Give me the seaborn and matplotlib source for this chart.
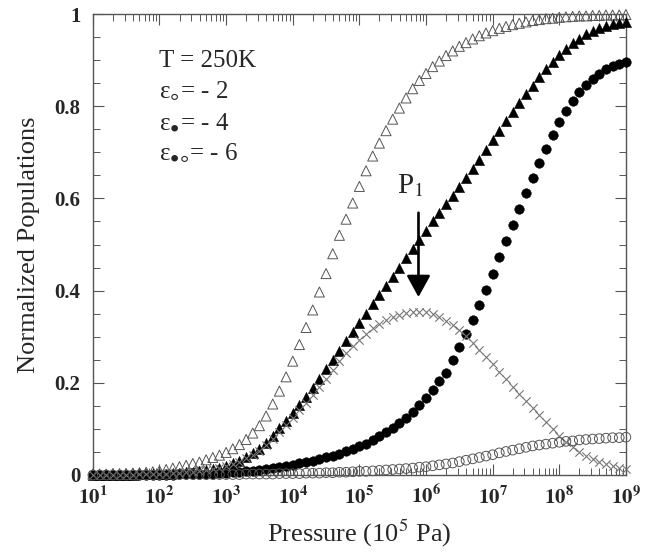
import numpy as np
import pandas as pd
import seaborn as sns
import matplotlib.pyplot as plt
from matplotlib.ticker import FixedLocator, MultipleLocator, LogLocator, NullFormatter

# log10 of pressure (10^5 Pa), one point every tenth of a decade
log_p = [1.0, 1.1, 1.2, 1.3, 1.4, 1.5, 1.6, 1.7, 1.8, 1.9,
         2.0, 2.1, 2.2, 2.3, 2.4, 2.5, 2.6, 2.7, 2.8, 2.9,
         3.0, 3.1, 3.2, 3.3, 3.4, 3.5, 3.6, 3.7, 3.8, 3.9,
         4.0, 4.1, 4.2, 4.3, 4.4, 4.5, 4.6, 4.7, 4.8, 4.9,
         5.0, 5.1, 5.2, 5.3, 5.4, 5.5, 5.6, 5.7, 5.8, 5.9,
         6.0, 6.1, 6.2, 6.3, 6.4, 6.5, 6.6, 6.7, 6.8, 6.9,
         7.0, 7.1, 7.2, 7.3, 7.4, 7.5, 7.6, 7.7, 7.8, 7.9,
         8.0, 8.1, 8.2, 8.3, 8.4, 8.5, 8.6, 8.7, 8.8, 8.9,
         9.0]

# open triangles
open_tri = [0.002, 0.002, 0.002, 0.003, 0.003, 0.003, 0.004, 0.005, 0.006, 0.007,
            0.009, 0.012, 0.015, 0.018, 0.021, 0.025, 0.028, 0.033, 0.038, 0.043,
            0.049, 0.057, 0.066, 0.077, 0.091, 0.107, 0.128, 0.154, 0.182, 0.213,
            0.247, 0.283, 0.320, 0.358, 0.397, 0.437, 0.480, 0.520, 0.555, 0.590,
            0.626, 0.660, 0.692, 0.720, 0.747, 0.772, 0.796, 0.818, 0.838, 0.856,
            0.871, 0.886, 0.898, 0.910, 0.920, 0.930, 0.938, 0.946, 0.953, 0.959,
            0.964, 0.969, 0.973, 0.977, 0.980, 0.983, 0.986, 0.988, 0.990, 0.991,
            0.993, 0.994, 0.995, 0.996, 0.996, 0.997, 0.997, 0.998, 0.998, 0.998,
            0.999]

# filled triangles
filled_tri = [0.001, 0.001, 0.001, 0.001, 0.001, 0.001, 0.001, 0.002, 0.002, 0.002,
              0.003, 0.003, 0.004, 0.005, 0.006, 0.007, 0.009, 0.011, 0.013, 0.016,
              0.020, 0.025, 0.031, 0.038, 0.047, 0.057, 0.070, 0.085, 0.101, 0.117,
              0.134, 0.152, 0.170, 0.189, 0.209, 0.229, 0.250, 0.270, 0.290, 0.310,
              0.330, 0.350, 0.370, 0.390, 0.410, 0.430, 0.450, 0.470, 0.490, 0.510,
              0.530, 0.550, 0.569, 0.587, 0.605, 0.624, 0.644, 0.664, 0.684, 0.705,
              0.726, 0.747, 0.768, 0.788, 0.807, 0.826, 0.845, 0.863, 0.880, 0.896,
              0.911, 0.925, 0.937, 0.947, 0.956, 0.963, 0.969, 0.974, 0.978, 0.981,
              0.983]

# filled circles
filled_circ = [0.001, 0.001, 0.001, 0.001, 0.001, 0.001, 0.001, 0.001, 0.001, 0.001,
               0.001, 0.001, 0.001, 0.002, 0.002, 0.002, 0.002, 0.003, 0.003, 0.004,
               0.005, 0.006, 0.007, 0.008, 0.009, 0.011, 0.013, 0.015, 0.017, 0.019,
               0.022, 0.025, 0.028, 0.031, 0.034, 0.038, 0.042, 0.046, 0.051, 0.056,
               0.062, 0.068, 0.076, 0.084, 0.093, 0.103, 0.113, 0.124, 0.137, 0.152,
               0.168, 0.185, 0.203, 0.222, 0.250, 0.278, 0.306, 0.336, 0.368, 0.402,
               0.437, 0.472, 0.508, 0.543, 0.578, 0.612, 0.645, 0.677, 0.708, 0.738,
               0.766, 0.790, 0.812, 0.830, 0.846, 0.860, 0.871, 0.880, 0.887, 0.892,
               0.896]

# crosses
crosses = [0.001, 0.001, 0.001, 0.001, 0.001, 0.001, 0.001, 0.002, 0.002, 0.002,
           0.003, 0.003, 0.004, 0.005, 0.006, 0.007, 0.009, 0.010, 0.013, 0.015,
           0.019, 0.024, 0.029, 0.036, 0.044, 0.053, 0.065, 0.079, 0.093, 0.108,
           0.124, 0.140, 0.157, 0.174, 0.191, 0.208, 0.228, 0.248, 0.264, 0.279,
           0.293, 0.306, 0.318, 0.328, 0.336, 0.342, 0.347, 0.351, 0.353, 0.354,
           0.353, 0.349, 0.343, 0.335, 0.325, 0.314, 0.301, 0.287, 0.272, 0.256,
           0.240, 0.224, 0.208, 0.192, 0.176, 0.160, 0.145, 0.130, 0.115, 0.100,
           0.085, 0.072, 0.060, 0.050, 0.042, 0.035, 0.029, 0.024, 0.019, 0.016,
           0.013]

# open circles
open_circ = [0.000, 0.000, 0.000, 0.000, 0.000, 0.000, 0.000, 0.000, 0.000, 0.000,
             0.001, 0.001, 0.001, 0.001, 0.001, 0.001, 0.001, 0.001, 0.001, 0.001,
             0.001, 0.001, 0.001, 0.002, 0.002, 0.002, 0.002, 0.002, 0.003, 0.003,
             0.003, 0.003, 0.004, 0.004, 0.004, 0.005, 0.005, 0.006, 0.006, 0.007,
             0.008, 0.008, 0.009, 0.010, 0.011, 0.012, 0.013, 0.014, 0.015, 0.017,
             0.018, 0.020, 0.022, 0.024, 0.026, 0.029, 0.032, 0.035, 0.038, 0.041,
             0.044, 0.048, 0.051, 0.054, 0.057, 0.060, 0.063, 0.065, 0.067, 0.069,
             0.071, 0.073, 0.074, 0.076, 0.077, 0.078, 0.079, 0.080, 0.081, 0.081,
             0.082]

legend_lines = ["T = 250K", "ε$_{◦}$= - 2", "ε$_{•}$= - 4", "ε$_{•◦}$= - 6"]

df = pd.DataFrame({
    "pressure": 10.0 ** np.array(log_p),
    "open_tri": open_tri,
    "filled_tri": filled_tri,
    "filled_circ": filled_circ,
    "crosses": crosses,
    "open_circ": open_circ,
})

sns.set_style("ticks")
plt.rcParams["font.family"] = ["Liberation Serif", "DejaVu Serif"]
plt.rcParams["mathtext.fontset"] = "stix"

fig = plt.figure(figsize=(6.68, 5.54), dpi=100)
ax = fig.add_axes([0.139, 0.1426, 0.798, 0.832])

sns.scatterplot(data=df, x="pressure", y="open_tri", marker="^", s=52,
                facecolor="none", edgecolor="#555555", linewidth=0.7, ax=ax, clip_on=False, zorder=3)
sns.scatterplot(data=df, x="pressure", y="filled_tri", marker="^", s=55,
                color="black", edgecolor="black", linewidth=0.3, ax=ax, clip_on=False, zorder=3)
sns.scatterplot(data=df, x="pressure", y="filled_circ", marker="o", s=48,
                color="black", edgecolor="black", linewidth=0.3, ax=ax, clip_on=False, zorder=3)
sns.scatterplot(data=df, x="pressure", y="crosses", marker="x", s=36,
                color="#777777", linewidth=0.8, ax=ax, clip_on=False, zorder=4)
sns.scatterplot(data=df, x="pressure", y="open_circ", marker="o", s=48,
                facecolor="none", edgecolor="#555555", linewidth=0.7, ax=ax, clip_on=False, zorder=4)

ax.set_xscale("log")
ax.set_xlim(10, 1e9)
ax.set_ylim(0, 1)

ax.xaxis.set_major_locator(FixedLocator([10.0 ** k for k in range(1, 10)]))
ax.set_xticklabels([r"$\mathbf{10^{%d}}$" % k for k in range(1, 10)], fontsize=15)
ax.xaxis.set_minor_locator(LogLocator(base=10, subs=np.arange(2, 10), numticks=20))
ax.xaxis.set_minor_formatter(NullFormatter())

ax.set_yticks([0, 0.2, 0.4, 0.6, 0.8, 1.0])
ax.set_yticklabels(["0", "0.2", "0.4", "0.6", "0.8", "1"], fontsize=15, fontweight="bold")
ax.yaxis.set_minor_locator(MultipleLocator(0.05))

ax.tick_params(which="both", direction="in", top=True, right=True, color="#555555")
ax.tick_params(which="major", length=8, width=0.8)
ax.tick_params(which="minor", length=5, width=0.7)
ax.tick_params(axis="x", which="major", pad=8)
ax.tick_params(axis="y", which="major", pad=9)
for sp in ax.spines.values():
    sp.set_color("#555555")
    sp.set_linewidth(1.0)

ax.set_xlabel("Pressure (10$^5$ Pa)", fontsize=19, labelpad=6)
ax.set_ylabel("Normalized Populations", fontsize=19, labelpad=10)

# parameter block
y_text = [0.885, 0.818, 0.750, 0.685]
for line, yy in zip(legend_lines, y_text):
    ax.text(100, yy, line, fontsize=18, va="baseline", ha="left")

# P1 marker
ax.text(10 ** 5.77, 0.612, "P$_1$", fontsize=21, ha="center", va="baseline")
ax.annotate("", xy=(10 ** 5.887, 0.38), xytext=(10 ** 5.887, 0.575),
            arrowprops=dict(arrowstyle="-|>,head_length=0.4,head_width=0.22",
                            color="black", lw=1.9, mutation_scale=33))

fig.savefig("out.png", dpi=100)
